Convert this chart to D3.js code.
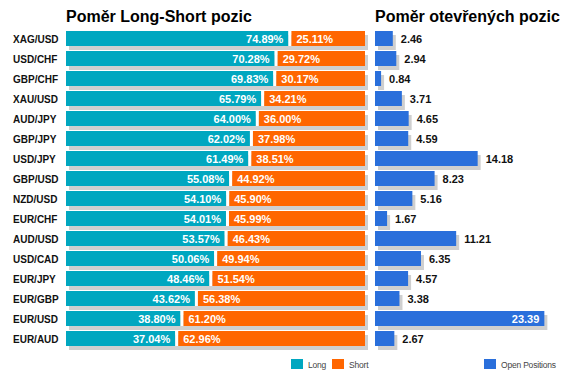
<!DOCTYPE html>
<html>
<head>
<meta charset="utf-8">
<script src="https://cdnjs.cloudflare.com/ajax/libs/d3/7.8.5/d3.min.js"></script>
<style>
  html, body { margin: 0; padding: 0; background: #fff; }
  svg { display: block; font-family: "Liberation Sans", Arial, sans-serif; }
</style>
</head>
<body>
<svg id="chart" width="570" height="380"></svg>
<script>
const categories = ["XAG/USD","USD/CHF","GBP/CHF","XAU/USD","AUD/JPY","GBP/JPY","USD/JPY","GBP/USD","NZD/USD","EUR/CHF","AUD/USD","USD/CAD","EUR/JPY","EUR/GBP","EUR/USD","EUR/AUD"];
const longPct  = [74.89,70.28,69.83,65.79,64.00,62.02,61.49,55.08,54.10,54.01,53.57,50.06,48.46,43.62,38.80,37.04];
const shortPct = [25.11,29.72,30.17,34.21,36.00,37.98,38.51,44.92,45.90,45.99,46.43,49.94,51.54,56.38,61.20,62.96];
const openPos  = [2.46,2.94,0.84,3.71,4.65,4.59,14.18,8.23,5.16,1.67,11.21,6.35,4.57,3.38,23.39,2.67];
const titles = ["Poměr Long-Short pozic", "Poměr otevřených pozic"];
const legendLeft = ["Long", "Short"];
const legendRight = ["Open Positions"];

const C_LONG = "#00a7c0", C_SHORT = "#ff6600", C_OPEN = "#2a6fdb", C_SHADOW = "#cfcfcf";
const svg = d3.select("#chart");

const y = d3.scaleBand().domain(categories).range([31, 351]).paddingInner(0.25).paddingOuter(0);
// band step 20, bar height 15
const bh = 15;
const yTop = c => 31 + categories.indexOf(c) * 20;

const xL = d3.scaleLinear().domain([0, 100]).range([66, 365]);
const xR = d3.scaleLinear().domain([0, 25]).range([375, 556]);
const sdx = 3, sdy = 4, gap = 1.5;

const rows = categories.map((c, i) => ({c, l: longPct[i], s: shortPct[i], o: openPos[i]}));

// Titles
svg.append("text").attr("x", 66).attr("y", 22).text(titles[0])
  .attr("font-size", 16).attr("font-weight", "bold").attr("fill", "#000");
svg.append("text").attr("x", 375).attr("y", 22).text(titles[1])
  .attr("font-size", 16).attr("font-weight", "bold").attr("fill", "#000");

// Category labels
svg.append("g").selectAll("text").data(rows).join("text")
  .attr("x", 13).attr("y", d => yTop(d.c) + bh / 2 + 0.5)
  .attr("dominant-baseline", "central")
  .attr("font-size", 10).attr("font-weight", "bold").attr("fill", "#111")
  .text(d => d.c);

// Left shadows
svg.append("g").selectAll("rect").data(rows).join("rect")
  .attr("x", xL(0) + sdx).attr("y", d => yTop(d.c) + sdy)
  .attr("width", xL(100) - xL(0)).attr("height", bh).attr("fill", C_SHADOW);

// Long bars
svg.append("g").selectAll("rect").data(rows).join("rect")
  .attr("x", xL(0)).attr("y", d => yTop(d.c))
  .attr("width", d => xL(d.l) - gap - xL(0)).attr("height", bh).attr("fill", C_LONG);
// gap whiteners
svg.append("g").selectAll("rect").data(rows).join("rect")
  .attr("x", d => xL(d.l) - gap).attr("y", d => yTop(d.c))
  .attr("width", gap * 2).attr("height", bh).attr("fill", "#fff");
// Short bars
svg.append("g").selectAll("rect").data(rows).join("rect")
  .attr("x", d => xL(d.l) + gap).attr("y", d => yTop(d.c))
  .attr("width", d => xL(100) - xL(d.l) - gap).attr("height", bh).attr("fill", C_SHORT);

// Long labels
svg.append("g").selectAll("text").data(rows).join("text")
  .attr("x", d => xL(d.l) - gap - 5).attr("y", d => yTop(d.c) + bh / 2 + 0.5)
  .attr("dominant-baseline", "central").attr("text-anchor", "end")
  .attr("font-size", 11).attr("font-weight", "bold").attr("fill", "#fff")
  .text(d => d.l.toFixed(2) + "%");
// Short labels
svg.append("g").selectAll("text").data(rows).join("text")
  .attr("x", d => xL(d.l) + gap + 5).attr("y", d => yTop(d.c) + bh / 2 + 0.5)
  .attr("dominant-baseline", "central")
  .attr("font-size", 11).attr("font-weight", "bold").attr("fill", "#fff")
  .text(d => d.s.toFixed(2) + "%");

// Right shadows + bars
svg.append("g").selectAll("rect").data(rows).join("rect")
  .attr("x", xR(0) + sdx).attr("y", d => yTop(d.c) + sdy)
  .attr("width", d => xR(d.o) - xR(0)).attr("height", bh).attr("fill", C_SHADOW);
svg.append("g").selectAll("rect").data(rows).join("rect")
  .attr("x", xR(0)).attr("y", d => yTop(d.c))
  .attr("width", d => xR(d.o) - xR(0)).attr("height", bh).attr("fill", C_OPEN);

const maxO = d3.max(openPos);
svg.append("g").selectAll("text").data(rows).join("text")
  .attr("x", d => d.o === maxO ? xR(d.o) - 5 : xR(d.o) + sdx + 5)
  .attr("y", d => yTop(d.c) + bh / 2 + 0.5)
  .attr("dominant-baseline", "central")
  .attr("text-anchor", d => d.o === maxO ? "end" : "start")
  .attr("font-size", 11).attr("font-weight", "bold")
  .attr("fill", d => d.o === maxO ? "#fff" : "#111")
  .text(d => d.o.toFixed(2));

// Legends
const legCol = d3.scaleOrdinal().domain(["Long","Short","Open Positions"]).range([C_LONG, C_SHORT, C_OPEN]);
const legItems = [{t: legendLeft[0], x: 291}, {t: legendLeft[1], x: 332}, {t: legendRight[0], x: 484}];
const lg = svg.append("g").selectAll("g").data(legItems).join("g")
  .attr("transform", d => `translate(${d.x},359)`);
lg.append("rect").attr("width", 12).attr("height", 10).attr("fill", d => legCol(d.t));
lg.append("text").attr("x", 17).attr("y", 5.5).attr("dominant-baseline", "central")
  .attr("font-size", 8.5).attr("fill", "#444").attr("letter-spacing", -0.2).text(d => d.t);
</script>
</body>
</html>
